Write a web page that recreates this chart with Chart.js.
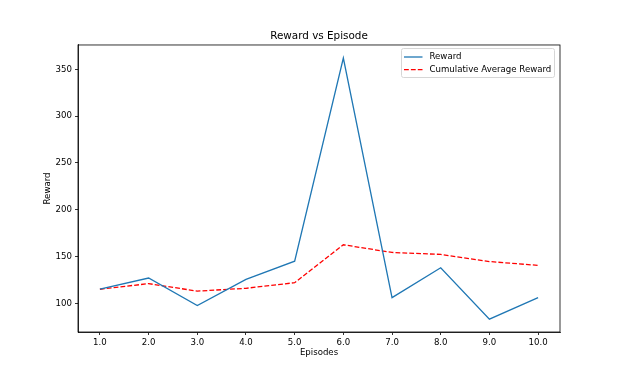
<!DOCTYPE html>
<html>
<head>
<meta charset="utf-8">
<script src="https://cdn.jsdelivr.net/npm/chart.js@4"></script>
<style>
  html, body { margin: 0; padding: 0; background: #fff; }
  #wrap { width: 622px; height: 373px; }
</style>
</head>
<body>
<div id="wrap"><canvas id="rewardChart"></canvas></div>
<script>
const episodes = [1, 2, 3, 4, 5, 6, 7, 8, 9, 10];
const rewards = [115, 127, 97.5, 125.5, 145, 362, 106, 138, 83, 106];
const cumulativeAvg = [115, 121, 113, 116, 122, 162.5, 154.3, 152.2, 144.6, 140.5];
const yTicks = [100, 150, 200, 250, 300, 350];

const FONT = 'DejaVu Sans';
const SMALL = 8.6;

// matplotlib-ish frame + legend inside the axes
const framePlugin = {
    id: 'frame',
    afterDraw(chart) {
        const { ctx, chartArea: a } = chart;
        ctx.save();
        ctx.strokeStyle = '#000';
        ctx.lineWidth = 0.8;
        ctx.strokeRect(a.left, a.top, a.right - a.left, a.bottom - a.top);

        // legend
        const bx = 401.5, by = 48.5, bw = 153, bh = 29;
        ctx.fillStyle = 'rgba(255,255,255,0.8)';
        ctx.strokeStyle = '#d6d6d6';
        ctx.lineWidth = 1;
        ctx.beginPath();
        ctx.roundRect(bx, by, bw, bh, 2);
        ctx.fill();
        ctx.stroke();

        const items = [
            { label: 'Reward', color: '#1f77b4', dash: [] },
            { label: 'Cumulative Average Reward', color: '#ff0000', dash: [4.8, 2.1] }
        ];
        ctx.font = SMALL + 'px ' + FONT;
        ctx.textBaseline = 'middle';
        items.forEach((it, i) => {
            const y = 57 + i * 12.6;
            ctx.strokeStyle = it.color;
            ctx.lineWidth = 1.3;
            ctx.setLineDash(it.dash);
            ctx.beginPath();
            ctx.moveTo(404, y);
            ctx.lineTo(422.5, y);
            ctx.stroke();
            ctx.setLineDash([]);
            ctx.fillStyle = '#000';
            ctx.fillText(it.label, 429.5, y);
        });
        ctx.restore();
    }
};

const ctx = document.getElementById('rewardChart').getContext('2d');
new Chart(ctx, {
    type: 'line',
    data: {
        datasets: [
            {
                label: 'Reward',
                data: episodes.map((e, i) => ({ x: e, y: rewards[i] })),
                borderColor: '#1f77b4',
                borderWidth: 1.3,
                pointRadius: 0,
                tension: 0
            },
            {
                label: 'Cumulative Average Reward',
                data: episodes.map((e, i) => ({ x: e, y: cumulativeAvg[i] })),
                borderColor: '#ff0000',
                borderWidth: 1.3,
                borderDash: [4.8, 2.1],
                pointRadius: 0,
                tension: 0
            }
        ]
    },
    options: {
        responsive: true,
        maintainAspectRatio: false,
        animation: false,
        layout: { padding: { top: 0, right: 62, bottom: 0, left: 0 } },
        plugins: {
            legend: { display: false },
            tooltip: { enabled: false },
            title: {
                display: true,
                fullSize: false,
                text: 'Reward vs Episode',
                color: '#000',
                font: { family: FONT, size: 10.4, weight: 'normal' },
                padding: { top: 30, bottom: 2.5 }
            }
        },
        scales: {
            x: {
                type: 'linear',
                min: 0.55,
                max: 10.45,
                afterBuildTicks: s => { s.ticks = episodes.map(v => ({ value: v })); },
                afterFit: s => { s.height = 41; },
                ticks: {
                    color: '#000',
                    font: { family: FONT, size: SMALL },
                    padding: 3,
                    maxRotation: 0,
                    callback: v => v.toFixed(1)
                },
                grid: { display: true, drawOnChartArea: false, tickLength: 3, color: '#000', lineWidth: 0.8 },
                border: { display: true, color: '#000', width: 0.8 },
                title: {
                    display: true,
                    text: 'Episodes',
                    color: '#000',
                    font: { family: FONT, size: SMALL },
                    padding: 15
                }
            },
            y: {
                type: 'linear',
                min: 69.3,
                max: 376,
                afterBuildTicks: s => { s.ticks = yTicks.map(v => ({ value: v })); },
                afterFit: s => { s.width = 78; },
                ticks: {
                    color: '#000',
                    font: { family: FONT, size: SMALL },
                    padding: 3
                },
                grid: { display: true, drawOnChartArea: false, tickLength: 3, color: '#000', lineWidth: 0.8 },
                border: { display: true, color: '#000', width: 0.8 },
                title: {
                    display: true,
                    text: 'Reward',
                    color: '#000',
                    font: { family: FONT, size: SMALL },
                    padding: 43
                }
            }
        }
    },
    plugins: [framePlugin]
});
</script>
</body>
</html>
